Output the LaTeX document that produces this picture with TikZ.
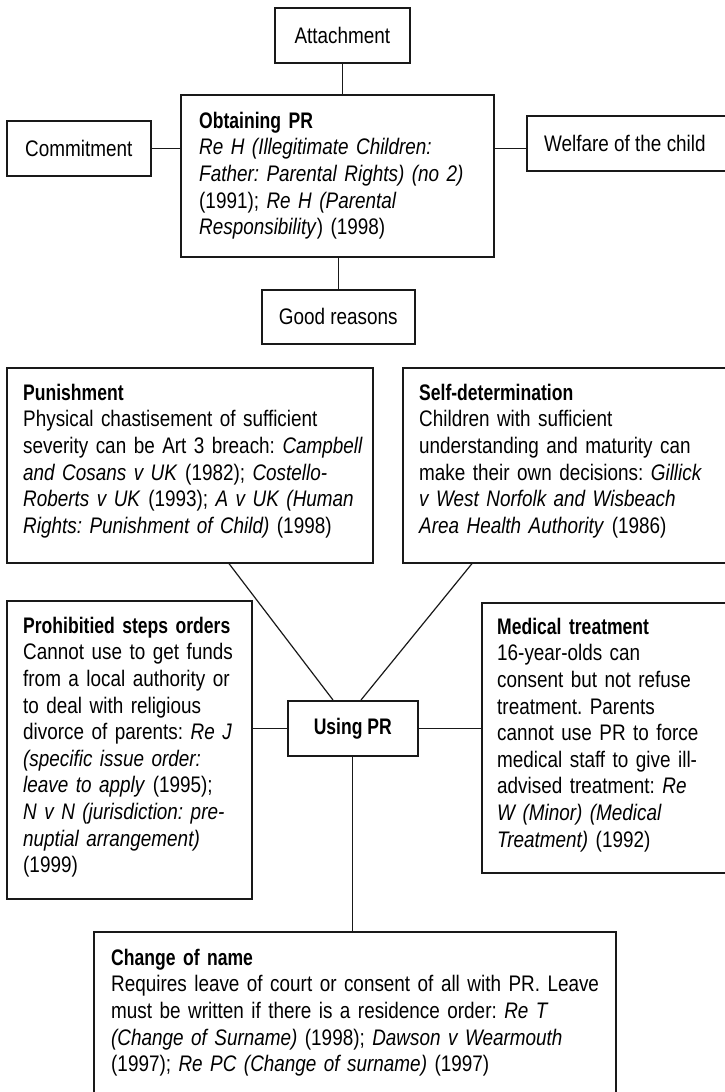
\documentclass[tikz,border=0pt]{standalone}
\usepackage{fontspec}
\setmainfont{Liberation Sans}[FakeStretch=0.84, BoldFeatures={FakeStretch=0.78}]
\usetikzlibrary{calc}
\frenchspacing
\begin{document}
\begin{tikzpicture}[x=1pt,y=-1pt,
  box/.style={draw=black!90, line width=1.6pt, anchor=north west, inner sep=0pt},
  body/.style={font=\fontsize{22.5}{26.6}\selectfont},
  txt/.style={body, anchor=north west, inner sep=0pt, align=left, text width=560pt},
  link/.style={draw=black!90, line width=1.2pt}]
\useasboundingbox (0,0) rectangle (724,1092);

% --- obtaining parental responsibility ---
\node[box, body, minimum width=135pt, minimum height=55pt] (att) at (274,7) {Attachment};
\node[box, body, minimum width=144pt, minimum height=55pt] (com) at (6,120) {Commitment};
\node[box, minimum width=313pt, minimum height=162pt] (obt) at (180,94) {};
\node[box, minimum width=205pt, minimum height=55pt] (wel) at (526,115) {};
\node[body, anchor=west, inner sep=0pt] (welt) at ($(wel.west)+(18,0)$) {Welfare of the child};
\node[box, body, minimum width=153pt, minimum height=54pt] (good) at (261,289) {Good reasons};

\node[txt] (obtt) at (199,109.4) {\strut\textbf{Obtaining PR}\\
\textit{Re H (Illegitimate Children:}\\
\textit{Father: Parental Rights) (no 2)}\\
(1991); \textit{Re H (Parental}\\
\textit{Responsibility}) (1998)};

\draw[link] (att.south) -- (att.south |- obt.north);
\draw[link] (com.east) -- (com.east -| obt.west);
\draw[link] (obt.east |- com.east) -- (wel.west |- com.east);
\draw[link] (good.north) -- (good.north |- obt.south);

% --- using parental responsibility ---
\node[box, minimum width=366pt, minimum height=195pt] (pun) at (6,367) {};
\node[box, minimum width=329pt, minimum height=195pt] (self) at (402,367) {};
\node[box, minimum width=245pt, minimum height=298pt] (pro) at (6,600) {};
\node[box, minimum width=250pt, minimum height=270pt] (med) at (481,602) {};
\node[box, body, minimum width=130pt, minimum height=55pt] (use) at (287,700) {\textbf{Using PR}};
\node[box, minimum width=522pt, minimum height=200pt] (chg) at (93,931) {};

\node[txt] (punt) at (23,381.4) {\strut\textbf{Punishment}\\
Physical chastisement of sufficient\\
severity can be Art 3 breach: \textit{Campbell}\\
\textit{and Cosans v UK} (1982); \textit{Costello-}\\
\textit{Roberts v UK} (1993); \textit{A v UK (Human}\\
\textit{Rights: Punishment of Child)} (1998)};

\node[txt] (selft) at (419,381.4) {\strut\textbf{Self-determination}\\
Children with sufficient\\
understanding and maturity can\\
make their own decisions: \textit{Gillick}\\
\textit{v West Norfolk and Wisbeach}\\
\textit{Area Health Authority} (1986)};

\node[txt] (prot) at (23,614.4) {\strut\textbf{Prohibitied steps orders}\\
Cannot use to get funds\\
from a local authority or\\
to deal with religious\\
divorce of parents: \textit{Re J}\\
\textit{(specific issue order:}\\
\textit{leave to apply} (1995);\\
\textit{N v N (jurisdiction: pre-}\\
\textit{nuptial arrangement)}\\
(1999)};

\node[txt] (medt) at (497,615.4) {\strut\textbf{Medical treatment}\\
16-year-olds can\\
consent but not refuse\\
treatment. Parents\\
cannot use PR to force\\
medical staff to give ill-\\
advised treatment: \textit{Re}\\
\textit{W (Minor) (Medical}\\
\textit{Treatment)} (1992)};

\node[txt] (chgt) at (111,946.4) {\strut\textbf{Change of name}\\
Requires leave of court or consent of all with PR. Leave\\
must be written if there is a residence order: \textit{Re T}\\
\textit{(Change of Surname)} (1998); \textit{Dawson v Wearmouth}\\
(1997); \textit{Re PC (Change of surname)} (1997)};

\draw[link] ($(pun.south west)+(223,0)$) -- ($(use.north west)+(46,0)$);
\draw[link] ($(self.south west)+(70,0)$) -- ($(use.north west)+(74,0)$);
\draw[link] (use.west) -- (use.west -| pro.east);
\draw[link] (use.east) -- (use.east -| med.west);
\draw[link] (use.south) -- (use.south |- chg.north);
\end{tikzpicture}
\end{document}
